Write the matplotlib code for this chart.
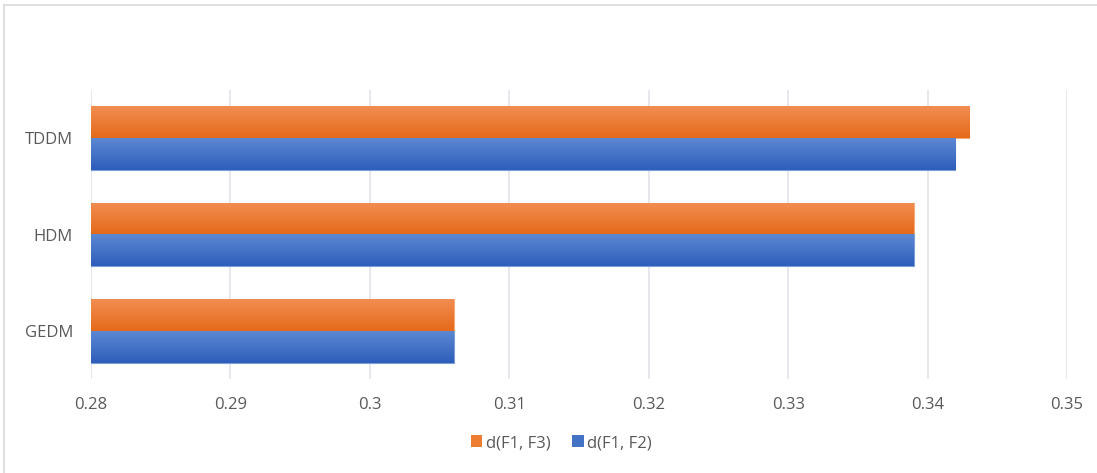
import numpy as np
import matplotlib.pyplot as plt
from matplotlib.patches import Patch
from matplotlib.lines import Line2D

plt.rcParams['font.family'] = ['Open Sans', 'DejaVu Sans']

methods = ['GEDM', 'HDM', 'TDDM']
d_f1_f3 = [0.306, 0.339, 0.343]
d_f1_f2 = [0.306, 0.339, 0.342]
xticks = [0.28, 0.29, 0.30, 0.31, 0.32, 0.33, 0.34, 0.35]
xtick_labels = ['0.28', '0.29', '0.3', '0.31', '0.32', '0.33', '0.34', '0.35']

orange_top, orange_bot = '#F28D52', '#E56A1A'
blue_top, blue_bot = '#5C88D2', '#2E5EBB'

fig = plt.figure(figsize=(10.97, 4.73), dpi=100)
ax = fig.add_axes([91 / 1097, (473 - 379) / 473, (1067 - 91) / 1097, (379 - 90) / 473])

# chart frame
fig.add_artist(Line2D([4 / 1097, 4 / 1097], [0, 1 - 5 / 473], color='#D9D9D9', lw=1.2))
fig.add_artist(Line2D([4 / 1097, 1], [1 - 5 / 473, 1 - 5 / 473], color='#D9D9D9', lw=1.2))

y = np.arange(len(methods))
h = 0.33


def gradient_bars(bars, c_top, c_bot):
    grad = np.linspace(0, 1, 64).reshape(-1, 1)
    top = np.array(plt.matplotlib.colors.to_rgb(c_top))
    bot = np.array(plt.matplotlib.colors.to_rgb(c_bot))
    img = top[None, None, :] * (1 - grad[:, :, None]) + bot[None, None, :] * grad[:, :, None]
    for b in bars:
        x0, y0 = b.get_x(), b.get_y()
        w, hh = b.get_width(), b.get_height()
        im = ax.imshow(img, extent=[x0, x0 + w, y0, y0 + hh], origin='upper',
                       aspect='auto', zorder=2, interpolation='bilinear')
        im.set_clip_path(b)


b1 = ax.barh(y + h / 2, np.array(d_f1_f3) - 0.28, height=h, left=0.28,
             color=orange_bot, edgecolor='#F5A878', linewidth=0.8, zorder=1)
b2 = ax.barh(y - h / 2, np.array(d_f1_f2) - 0.28, height=h, left=0.28,
             color=blue_bot, edgecolor='#7B9FDB', linewidth=0.8, zorder=1)
gradient_bars(b1, orange_top, orange_bot)
gradient_bars(b2, blue_top, blue_bot)

ax.set_xlim(0.28, 0.35)
ax.set_ylim(-0.5, len(methods) - 0.5)
ax.set_xticks(xticks)
ax.set_xticklabels(xtick_labels)
ax.set_yticks(y)
ax.set_yticklabels(methods)
ax.grid(axis='x', color='#E1E4EA', lw=1.2, zorder=0)
ax.set_axisbelow(True)
for s in ax.spines.values():
    s.set_visible(False)
ax.tick_params(axis='both', length=0, labelsize=12, labelcolor='#595959')
ax.tick_params(axis='x', pad=13)
ax.tick_params(axis='y', pad=13)

handles = [Patch(facecolor='#ED7D31', label='d(F1, F3)'),
           Patch(facecolor='#4472C4', label='d(F1, F2)')]
fig.legend(handles=handles, loc='center', bbox_to_anchor=(561 / 1097, 1 - 443 / 473),
           ncol=2, frameon=False, fontsize=12, handlelength=0.7, handleheight=0.7,
           handletextpad=0.2, columnspacing=1.3, labelcolor='#595959')

fig.savefig('out.png', dpi=100)
